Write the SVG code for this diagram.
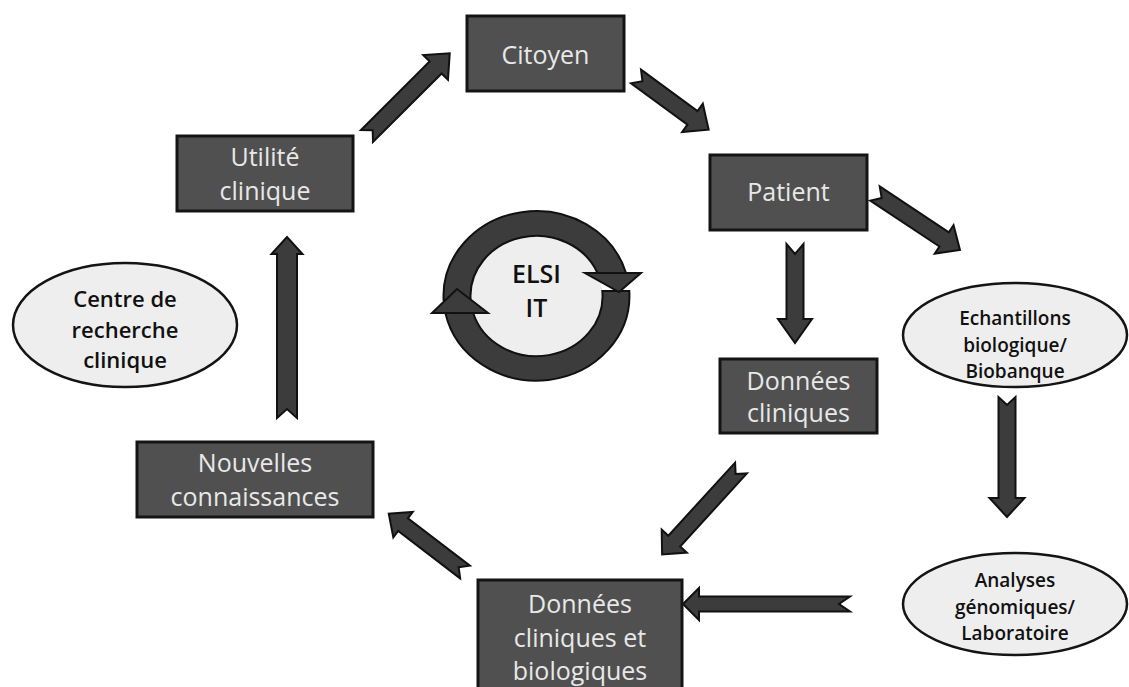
<svg xmlns="http://www.w3.org/2000/svg" width="1129" height="687" viewBox="0 0 1129 687">
<style>
.box{fill:#505050;stroke:#141414;stroke-width:3}
.bt{font-family:"Open Sans","Noto Sans",sans-serif;font-size:25px;fill:#e8e8e8;text-anchor:middle}
.ell{fill:#eeeeee;stroke:#141414;stroke-width:2.5}
.et{font-family:"Open Sans","Noto Sans",sans-serif;font-weight:600;fill:#111;text-anchor:middle}
.arr{fill:#3c3c3c;stroke:#111;stroke-width:2;stroke-linejoin:miter}
</style>
<rect width="1129" height="687" fill="#ffffff"/>
<g id="connectors">
<path class="arr" transform="translate(367,136) rotate(-45)" d="M0,-8.5 L97,-8.5 L97,-17.5 L117,0 L97,17.5 L97,8.5 L0,8.5 L8,0 Z"/>
<path class="arr" transform="translate(636,76.5) rotate(36.2)" d="M0,-8.5 L70,-8.5 L70,-17.5 L90,0 L70,17.5 L70,8.5 L0,8.5 L8,0 Z"/>
<path class="arr" transform="translate(287,418) rotate(-90)" d="M0,-10 L164,-10 L164,-15.5 L181,0 L164,15.5 L164,10 L0,10 L9,0 Z"/>
<path class="arr" transform="translate(795,244) rotate(90)" d="M0,-8.5 L75,-8.5 L75,-17 L99,0 L75,17 L75,8.5 L0,8.5 L10,0 Z"/>
<path class="arr" transform="translate(875,193.5) rotate(33.6)" d="M0,-8.5 L83,-8.5 L83,-17 L102,0 L83,17 L83,8.5 L0,8.5 L8,0 Z"/>
<path class="arr" transform="translate(1007,397) rotate(90)" d="M0,-8.5 L101,-8.5 L101,-17.5 L120,0 L101,17.5 L101,8.5 L0,8.5 L8,0 Z"/>
<path class="arr" transform="translate(850,604) rotate(180)" d="M0,-7.5 L151,-7.5 L151,-16 L167,0 L151,16 L151,7.5 L0,7.5 L11,0 Z"/>
<path class="arr" transform="translate(741,468) rotate(132.4)" d="M0,-8 L99,-8 L99,-17 L117,0 L99,17 L99,8 L0,8 L8,0 Z"/>
<path class="arr" transform="translate(465,572) rotate(-142.6)" d="M0,-8 L78,-8 L78,-16 L96,0 L78,16 L78,8 L0,8 L8,0 Z"/>
</g>
<g id="elsi">
<ellipse cx="536.5" cy="296" rx="66" ry="60" fill="#eeeeee"/>
<path class="arr" d="M443.6,300 A93,85 0 0,1 626,273 L597.5,273 A66,60 0 0,0 470.65,300 Z"/>
<path class="arr" d="M629.3,291 A93,85 0 0,1 445.4,313 L473.2,313 A66,60 0 0,0 602.3,291 Z"/>
<polygon class="arr" points="585,273 641,273 619,292"/>
<polygon class="arr" points="432,313 488,313 457,289"/>
<text class="et" x="536.5" y="283" font-size="25">ELSI</text>
<text class="et" x="536.5" y="317" font-size="25">IT</text>
</g>
<g id="citoyen">
<rect class="box" x="467" y="16" width="157" height="75"/>
<text class="bt" x="545.5" y="64">Citoyen</text>
</g>
<g id="utilite">
<rect class="box" x="177" y="136" width="176" height="75"/>
<text class="bt" x="265" y="166">Utilité</text>
<text class="bt" x="265" y="200">clinique</text>
</g>
<g id="patient">
<rect class="box" x="710" y="155" width="157" height="75"/>
<text class="bt" x="788.5" y="201">Patient</text>
</g>
<g id="donnees-cliniques">
<rect class="box" x="720" y="359" width="157" height="74"/>
<text class="bt" x="798.5" y="390">Données</text>
<text class="bt" x="798.5" y="422">cliniques</text>
</g>
<g id="nouvelles">
<rect class="box" x="137" y="442" width="236" height="75"/>
<text class="bt" x="255" y="472">Nouvelles</text>
<text class="bt" x="255" y="506">connaissances</text>
</g>
<g id="donnees-cli-bio">
<rect class="box" x="478" y="580" width="204" height="112"/>
<text class="bt" x="580" y="613">Données</text>
<text class="bt" x="580" y="647">cliniques et</text>
<text class="bt" x="580" y="680">biologiques</text>
</g>
<g id="centre">
<ellipse class="ell" cx="125" cy="325" rx="112" ry="62"/>
<text class="et" x="125" y="307" font-size="22">Centre de</text>
<text class="et" x="125" y="338" font-size="22">recherche</text>
<text class="et" x="125" y="368" font-size="22">clinique</text>
</g>
<g id="echantillons">
<ellipse class="ell" cx="1015" cy="335" rx="112" ry="52"/>
<text class="et" x="1015" y="325" font-size="19">Echantillons</text>
<text class="et" x="1015" y="352" font-size="19">biologique/</text>
<text class="et" x="1015" y="378" font-size="19">Biobanque</text>
</g>
<g id="analyses">
<ellipse class="ell" cx="1015" cy="604" rx="112" ry="51"/>
<text class="et" x="1015" y="587" font-size="19">Analyses</text>
<text class="et" x="1015" y="614" font-size="19">génomiques/</text>
<text class="et" x="1015" y="640" font-size="19">Laboratoire</text>
</g>
</svg>
